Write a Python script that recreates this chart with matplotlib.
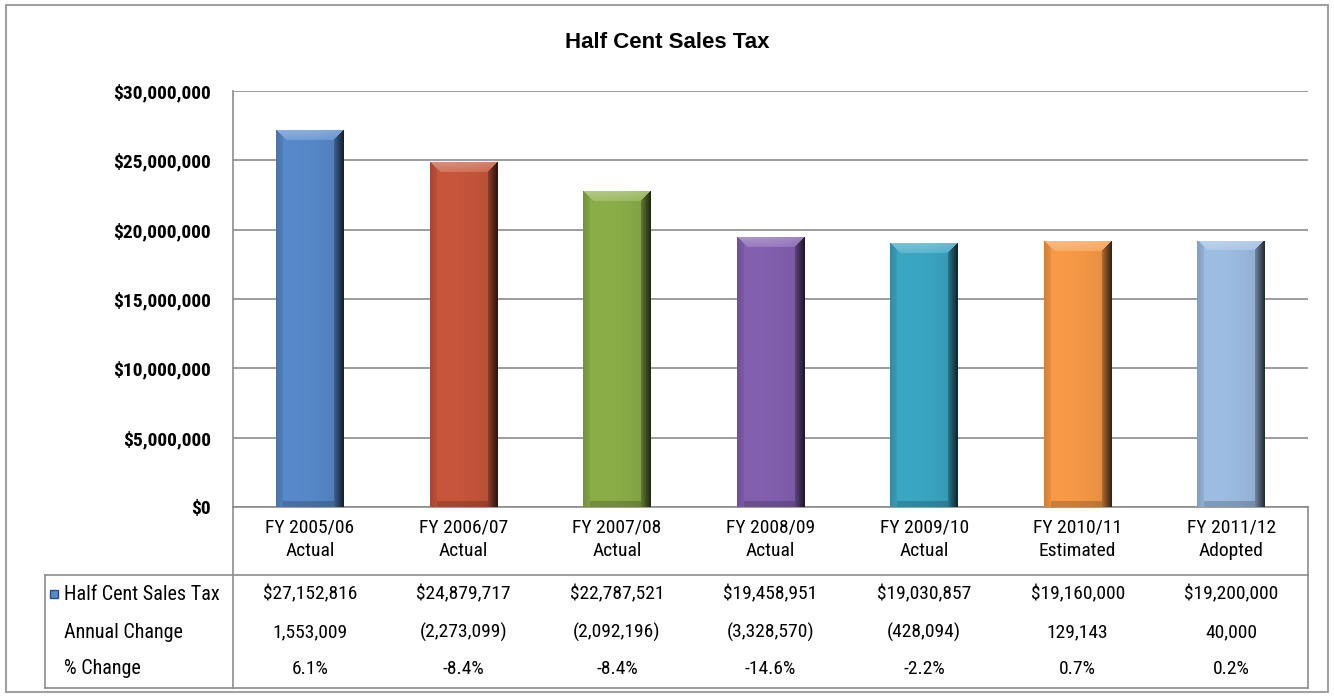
import numpy as np
import matplotlib
matplotlib.use("Agg")
import matplotlib.pyplot as plt
from matplotlib.lines import Line2D
from matplotlib.patches import Rectangle
from matplotlib.ticker import FuncFormatter

# Half cent sales tax revenue by fiscal year
years = ["FY 2005/06", "FY 2006/07", "FY 2007/08", "FY 2008/09",
         "FY 2009/10", "FY 2010/11", "FY 2011/12"]
status = ["Actual", "Actual", "Actual", "Actual", "Actual", "Estimated", "Adopted"]
revenue = [27152816, 24879717, 22787521, 19458951, 19030857, 19160000, 19200000]
annual_change = ["1,553,009", "(2,273,099)", "(2,092,196)", "(3,328,570)",
                 "(428,094)", "129,143", "40,000"]
pct_change = ["6.1%", "-8.4%", "-8.4%", "-14.6%", "-2.2%", "0.7%", "0.2%"]
bar_colors = ["#5789CB", "#C8563A", "#8CAE48", "#8460B0", "#3AA7C3", "#F89A46", "#9DBDE2"]

W, H = 1334, 698
NARROW = ["Roboto Condensed", "Liberation Sans", "DejaVu Sans"]
plt.rcParams["font.family"] = NARROW

fig = plt.figure(figsize=(W / 100, H / 100), dpi=100)
fig.patch.set_facecolor("white")

# plot area in pixels
L, R, T, B = 233, 1308, 91, 507
ax = fig.add_axes([L / W, 1 - B / H, (R - L) / W, (B - T) / H])

x = np.arange(len(years))
bw = 0.44
bars = ax.bar(x, revenue, width=bw, color=bar_colors, zorder=2)


def fx(px):
    return px / W


def fy(py):
    return 1 - py / H


def bevel_image(color, h_px, w_px=68, b=10):
    # bevelled face: light top facet, dark right edge, softer left edge
    base = np.array(matplotlib.colors.to_rgb(color))
    h_px = max(int(h_px), 2 * b + 2)
    yy, xx = np.mgrid[0:h_px, 0:w_px].astype(float)
    dl = xx
    dr = w_px - 1 - xx
    dt = yy
    db = h_px - 1 - yy
    img = np.tile(base, (h_px, w_px, 1))
    shade = np.zeros((h_px, w_px))
    m_r = (dr < b) & (dr <= dt)
    shade[m_r] = -0.2 - 0.45 * (1 - dr[m_r] / b)
    m_l = (dl < b * 0.7) & (dl <= dt) & ~m_r
    shade[m_l] = -0.06 - 0.1 * (1 - dl[m_l] / (b * 0.7))
    m_t = (dt < b) & (dt < dl) & (dt < dr)
    shade[m_t] = 0.32 - 0.15 * (dt[m_t] / b)
    m_b = (db < 6) & ~m_r & ~m_l
    shade[m_b] = -0.18
    shade += -0.12 * (xx / w_px) ** 3
    out = np.where(shade[..., None] > 0,
                   img + (1 - img) * shade[..., None],
                   img * (1 + shade[..., None]))
    return np.clip(out, 0, 1)


px_per_unit = (B - T) / 30000000
for rect, val, c in zip(bars, revenue, bar_colors):
    img = bevel_image(c, val * px_per_unit)
    x0 = rect.get_x()
    im = ax.imshow(img, extent=[x0, x0 + bw, 0, val], aspect="auto",
                   interpolation="bilinear", zorder=3, origin="upper")
    im.set_clip_path(rect)

ax.set_xlim(-0.5, len(years) - 0.5)
ax.set_ylim(0, 30000000)
ax.set_yticks(np.arange(0, 30000001, 5000000))
ax.yaxis.set_major_formatter(FuncFormatter(lambda v, p: f"${v:,.0f}"))
ax.set_xticks([])
ax.tick_params(axis="y", length=0, pad=16, labelsize=14)
for lab in ax.get_yticklabels():
    lab.set_fontweight("bold")
ax.grid(axis="y", color="#8c8c8c", linewidth=1.2, zorder=0)
ax.set_axisbelow(True)
for s in ["top", "right"]:
    ax.spines[s].set_visible(False)
for s in ["left", "bottom"]:
    ax.spines[s].set_color("#8c8c8c")
    ax.spines[s].set_linewidth(1.2)

fig.text(0.5, fy(43), "Half Cent Sales Tax", ha="center", va="center",
         fontsize=16, fontweight="bold", family=["Liberation Sans", "DejaVu Sans"])

# category labels under the axis
centers = [L + (R - L) / len(years) * (i + 0.5) for i in range(len(years))]
for cx, yr, st in zip(centers, years, status):
    fig.text(fx(cx), fy(527), yr, ha="center", va="center", fontsize=14)
    fig.text(fx(cx), fy(551), st, ha="center", va="center", fontsize=14)

# data table
rows = [[f"${v:,.0f}" for v in revenue], annual_change, pct_change]
row_names = ["Half Cent Sales Tax", "Annual Change", "% Change"]
row_y = [594, 632, 669]
for name, vals, ry in zip(row_names, rows, row_y):
    fig.text(fx(64), fy(ry), name, ha="left", va="center", fontsize=14.5)
    for cx, v in zip(centers, vals):
        fig.text(fx(cx), fy(ry), v, ha="center", va="center", fontsize=14)

# legend key for the series row
fig.add_artist(Rectangle((fx(50), fy(598)), fx(8), 8 / H, transform=fig.transFigure,
                         facecolor=bar_colors[0], edgecolor="#2c4d7a", linewidth=1))

grid_c = "#8c8c8c"
table_lines = [
    ([L, L], [B, 688]),
    ([R, R], [B, 688]),
    ([45, R], [575, 575]),
    ([45, R], [688, 688]),
    ([45, 45], [575, 688]),
]
for xs, ys in table_lines:
    fig.add_artist(Line2D([fx(v) for v in xs], [fy(v) for v in ys],
                          transform=fig.transFigure, color=grid_c, linewidth=1.2))

# outer frame
fig.add_artist(Rectangle((fx(6), fy(692)), fx(1322), 687 / H, transform=fig.transFigure,
                         fill=False, edgecolor="#a0a0a0", linewidth=1.5))

fig.savefig("out.png", dpi=100, facecolor="white")
